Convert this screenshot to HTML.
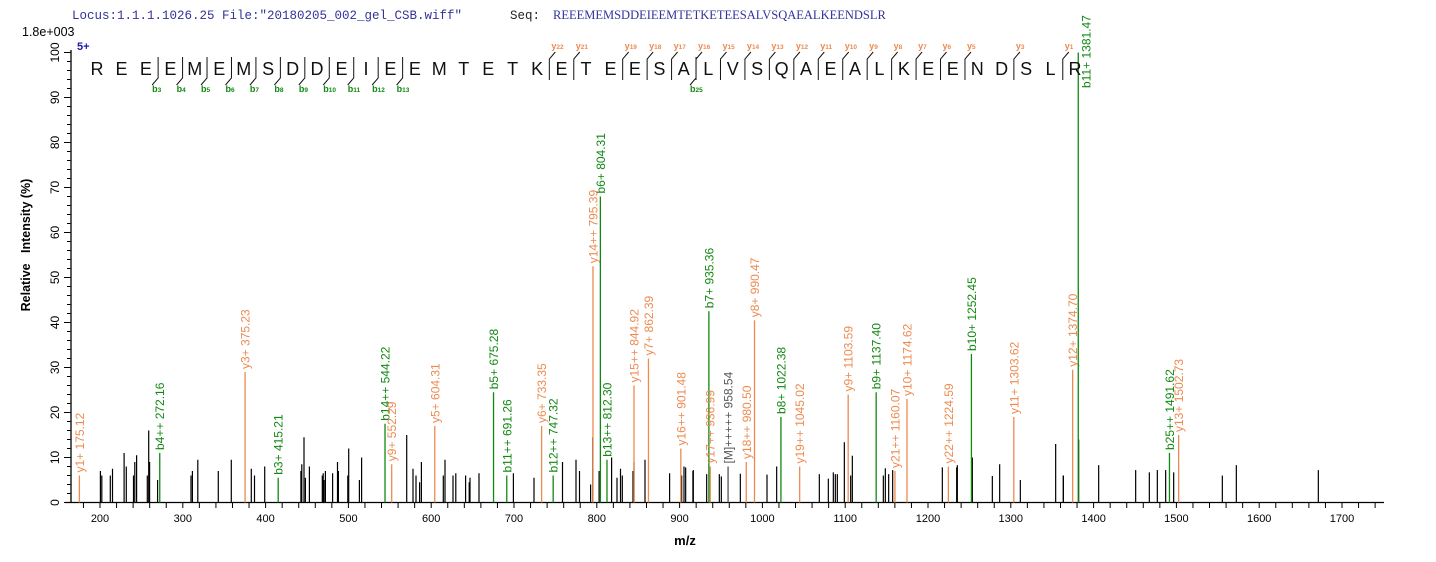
<!DOCTYPE html>
<html><head><meta charset="utf-8">
<style>
html,body{margin:0;padding:0;background:#fff;}
svg{display:block;font-family:"Liberation Sans",Arial,sans-serif;}
</style></head>
<body>
<svg id="s" width="1436" height="562" viewBox="0 0 1436 562" xmlns="http://www.w3.org/2000/svg">
<text x="72" y="19" font-family="Liberation Mono,monospace" font-size="12.5" fill="#33339a">Locus:1.1.1.1026.25 File:"20180205_002_gel_CSB.wiff"</text>
<text x="510" y="19" font-family="Liberation Mono,monospace" font-size="12.5" fill="#222">Seq:</text>
<text x="553" y="19" font-family="Liberation Serif,serif" font-size="12.5" fill="#33339a">REEEMEMSDDEIEEMTETKETEESALVSQAEALKEENDSLR</text>
<text x="22" y="36" font-size="12.5" fill="#000">1.8e+003</text>
<text x="77" y="50" font-size="11" font-weight="bold" fill="#1a1aaa">5+</text>
<text transform="translate(30,245) rotate(-90)" text-anchor="middle" font-size="12.5" font-weight="bold" fill="#000" xml:space="preserve">Relative   Intensity (%)</text>
<text x="685" y="545" text-anchor="middle" font-size="13" font-weight="bold" fill="#000">m/z</text>
<g id="g"></g>
</svg>
<script>
var g=document.getElementById('g');var h='';
function X(m){return 100+(m-200)*0.828;}
function Y(v){return 502.5-4.5*v;}
h+='<line x1="71" y1="50" x2="71" y2="503" stroke="#000" stroke-width="1.3"/>';
h+='<line x1="65" y1="502.5" x2="1384" y2="502.5" stroke="#000" stroke-width="1.3"/>';
for(var v=0;v<=100;v+=2){var y=Y(v);var maj=v%10==0;h+='<line x1="'+(maj?64:67)+'" y1="'+y+'" x2="71" y2="'+y+'" stroke="#000"/>';
 if(maj)h+='<text transform="translate(59,'+y+') rotate(-90)" text-anchor="middle" font-size="12" fill="#000">'+v+'</text>';}
for(var m=180;m<=1740;m+=20){var x=X(m);h+='<line x1="'+x+'" y1="502.5" x2="'+x+'" y2="508" stroke="#000"/>';
 if(m%100==0)h+='<text x="'+x+'" y="522" text-anchor="middle" font-size="11" fill="#000">'+m+'</text>';}
var bp=[[100.4,7],[101.8,6],[110.3,6],[112.5,7.5],[124.1,11],[126.3,8],[133.5,6],[134.8,9],[136.6,10.5],[147.3,6],[148.7,16],[149.6,9],[157.6,5],[191,6],[192.4,7],[197.8,9.5],[218.3,7],[231.3,9.5],[251.3,7.5],[254.5,6],[264.7,8],[300.9,7],[301.8,8.5],[304,14.5],[305.4,5.5],[309.4,8],[322.3,6],[323.2,6.5],[324.1,5],[325.4,7],[332.6,6.5],[337.5,9],[338.4,7],[347.8,6],[348.7,12],[359.4,5],[361.6,10],[406.7,15],[413,7.5],[416,6],[419.6,4.5],[421.4,9],[443.3,6],[445,9.5],[453,6],[455.8,6.5],[465.6,6],[469.2,4.5],[470,5.5],[479,6.5],[513.4,6.5],[534,5.5],[562.5,9],[576,9.5],[579.5,7],[590.6,4],[592.8,14.5],[599.1,7],[611.6,10],[617,5.5],[620.5,7.5],[622.3,6],[633,7],[634,9],[645,9.5],[669.6,6.5],[684,8],[692.9,7]];
var z6=[[5,6],[17,7.8],[40,7.2],[80,6.3],[118,6.3],[124,5.8],[181,6.4],[261,6.2],[290,8],[418,6.3],[445,5.3],[460,6.7],[466,6.3],[472,6.3],[493,13.4],[512,6],[517,10.4],[610,6],[616,7.6],[626,6.3],[638,7.2],[787,7.8],[830,7.8],[832,8.3],[877,10],[937,5.9],[959,8.5],[1021,5],[1127,13],[1150,6],[1196,14]];
z6.forEach(function(p){bp.push([680+p[0]/3,p[1]]);});
var z7=[[10,6],[116,8.3],[227,7.2],[268,6.7],[292,7.2],[317,7.2],[341,6.7],[487,6],[529,8.3],[775,7.2]];
z7.forEach(function(p){bp.push([1060+p[0]/3,p[1]]);});
bp.forEach(function(p){h+='<line x1="'+p[0]+'" y1="502.5" x2="'+p[0]+'" y2="'+Y(p[1])+'" stroke="#000" stroke-width="1.2"/>';});
var O='#ee8a50',G='#118811',Gr='#555';
var cp=[[175.12,6,O,'y1+ 175.12'],[272.16,11,G,'b4++ 272.16'],[375.23,29,O,'y3+ 375.23'],[415.21,5.5,G,'b3+ 415.21'],[544.22,17.5,G,'b14++ 544.22'],[552.29,8.5,O,'y9+ 552.29'],[604.31,17,O,'y5+ 604.31'],[675.28,24.5,G,'b5+ 675.28'],[691.26,6,G,'b11++ 691.26'],[733.35,17,O,'y6+ 733.35'],[747.32,6,G,'b12++ 747.32'],[795.39,52.5,O,'y14++ 795.39'],[804.31,68,G,'b6+ 804.31'],[812.30,9.5,G,'b13++ 812.30'],[844.92,26,O,'y15++ 844.92'],[862.39,32,O,'y7+ 862.39'],[901.48,12,O,'y16++ 901.48'],[935.36,42.5,G,'b7+ 935.36'],[936.99,8,O,'y17++ 936.99'],[958.54,8,Gr,'[M]+++++ 958.54'],[980.50,9,O,'y18++ 980.50'],[990.47,40.5,O,'y8+ 990.47'],[1022.38,19,G,'b8+ 1022.38'],[1045.02,8,O,'y19++ 1045.02'],[1103.59,24,O,'y9+ 1103.59'],[1137.40,24.5,G,'b9+ 1137.40'],[1160.07,7,O,'y21++ 1160.07'],[1174.62,23,O,'y10+ 1174.62'],[1224.59,8,O,'y22++ 1224.59'],[1252.45,33,G,'b10+ 1252.45'],[1303.62,19,O,'y11+ 1303.62'],[1374.70,29.5,O,'y12+ 1374.70'],[1381.47,100,G,'b11+ 1381.47'],[1491.62,11,G,'b25++ 1491.62'],[1502.73,15,O,'y13+ 1502.73']];
cp.forEach(function(p){var x=X(p[0]),y=Y(p[1]);
 h+='<line x1="'+x+'" y1="502.5" x2="'+x+'" y2="'+y+'" stroke="'+p[2]+'" stroke-width="1.3"/>';
 var tx=x+4.5,ty=y-3;
 if(p[1]>=100){tx=x+12;ty=88;}
 h+='<text transform="translate('+tx+','+ty+') rotate(-90)" font-size="12" fill="'+p[2]+'">'+p[3]+'</text>';});
var seq='REEEMEMSDDEIEEMTETKETEESALVSQAEALKEENDSLR';var sp=24.45,x0=97;
for(var i=0;i<seq.length;i++)h+='<text x="'+(x0+i*sp)+'" y="75" text-anchor="middle" font-size="18" fill="#111">'+seq[i]+'</text>';
function sep(i){return x0+(i-0.5)*sp;}
[3,4,5,6,7,8,9,10,11,12,13,25].forEach(function(n){var x=sep(n);
 h+='<polyline points="'+x+',57 '+x+',78 '+(x-6)+',85" fill="none" stroke="#111"/>';
 h+='<text x="'+(x-6)+'" y="92" font-size="9" font-weight="bold" fill="'+G+'">b<tspan font-size="6.5">'+n+'</tspan></text>';});
[22,21,19,18,17,16,15,14,13,12,11,10,9,8,7,6,5,3,1].forEach(function(n){var x=sep(41-n);
 h+='<polyline points="'+(x+6)+',52 '+x+',59 '+x+',80" fill="none" stroke="#111"/>';
 h+='<text x="'+(x+2)+'" y="49" font-size="9" font-weight="bold" fill="'+O+'">y<tspan font-size="6.5">'+n+'</tspan></text>';});
g.innerHTML=h;
</script>
</body></html>
